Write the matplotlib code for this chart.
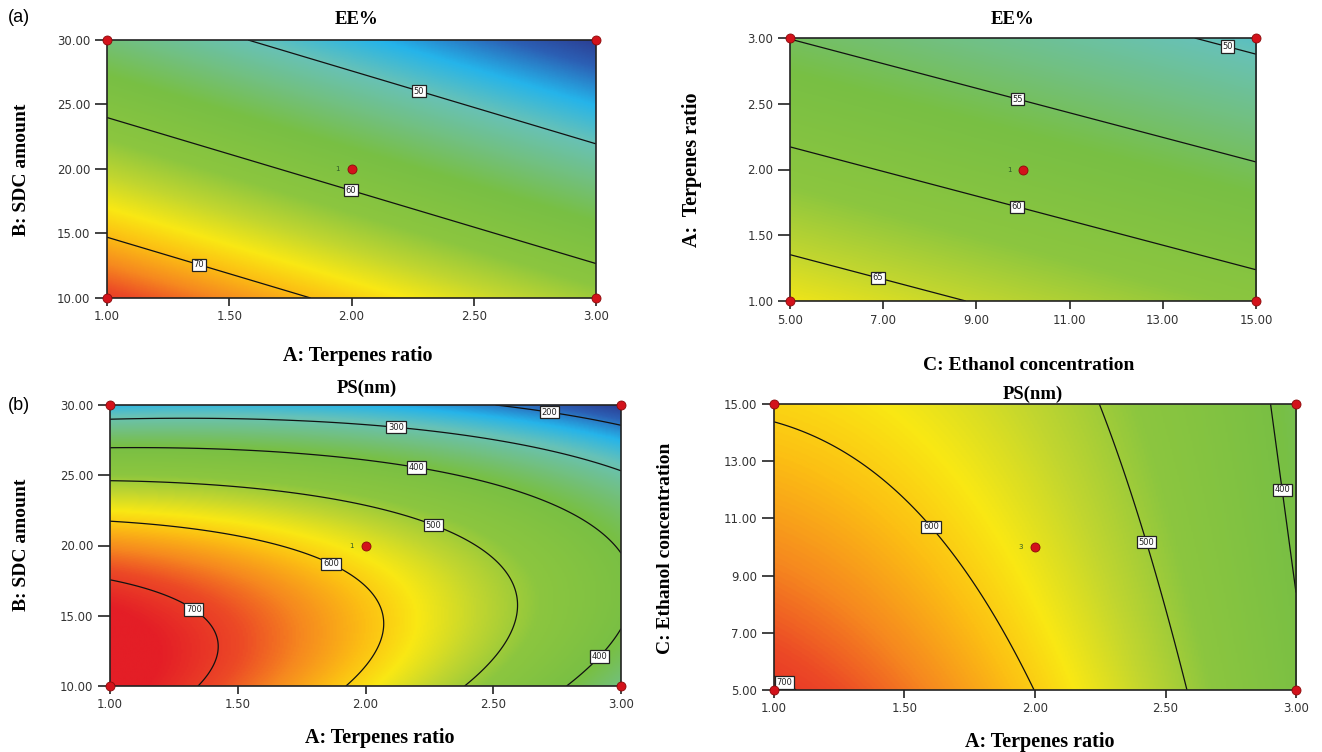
import numpy as np
import matplotlib
matplotlib.use("Agg")
import matplotlib.pyplot as plt
from matplotlib.colors import LinearSegmentedColormap, Normalize

# ---- factor ranges (actual units) ----
A_range = [1.0, 3.0]     # A: Terpenes ratio
B_range = [10.0, 30.0]   # B: SDC amount
C_range = [5.0, 15.0]    # C: Ethanol concentration
A_center, B_center, C_center = 2.0, 20.0, 10.0

# ---- fitted response models in coded units ----
# EE% = e0 + eA*a + eB*b + eC*c
ee_coef = [58.2, -6.1, -10.78, -2.85]
# PS = p0 + pA a + pB b + pC c + pAA a^2 + pBB b^2 + pCC c^2 + pAB ab + pAC ac
ps_coef = [562.26, -126.38, -174.32, -35.48, -40.75, -151.85, 1.74, 76.23, 20.75]

# contour levels shown
ee_levels_1 = [50, 60, 70]
ee_levels_2 = [50, 55, 60, 65]
ps_levels_3 = [200, 300, 400, 500, 600, 700]
ps_levels_4 = [400, 500, 600, 700]

# colour ranges of each response
ee_span = [41.0, 77.0]
ps_span = [140.0, 730.0]

# tick values
A_ticks = [1.0, 1.5, 2.0, 2.5, 3.0]
B_ticks = [10.0, 15.0, 20.0, 25.0, 30.0]
C_ticks_a = [5.0, 7.0, 9.0, 11.0, 13.0, 15.0]
A_ticks_y = [1.0, 1.5, 2.0, 2.5, 3.0]

# design point counts at centre
center_runs = ["1", "1", "1", "3"]


def coded(A, B, C):
    return (A - A_center) / 1.0, (B - B_center) / 10.0, (C - C_center) / 5.0


def ee_model(A, B, C):
    a, b, c = coded(A, B, C)
    e = ee_coef
    return e[0] + e[1] * a + e[2] * b + e[3] * c


def ps_model(A, B, C):
    a, b, c = coded(A, B, C)
    p = ps_coef
    return (p[0] + p[1] * a + p[2] * b + p[3] * c + p[4] * a * a + p[5] * b * b
            + p[6] * c * c + p[7] * a * b + p[8] * a * c)


cmap = LinearSegmentedColormap.from_list("dx", [
    (0.00, "#2b3a8f"),
    (0.07, "#2c5fb4"),
    (0.16, "#25b4ea"),
    (0.25, "#68c2b6"),
    (0.34, "#72c07f"),
    (0.43, "#78bf44"),
    (0.58, "#8cc63f"),
    (0.665, "#c2d62f"),
    (0.74, "#f9e814"),
    (0.80, "#fcc013"),
    (0.87, "#f6891f"),
    (0.93, "#ec4a26"),
    (1.00, "#e41e26"),
])

W, H = 1322, 752
fig = plt.figure(figsize=(W / 100, H / 100), dpi=100)


def axrect(x0, x1, ytop, ybot):
    return [x0 / W, 1 - ybot / H, (x1 - x0) / W, (ybot - ytop) / H]


serif = "Liberation Serif"
tick_font = dict(family="DejaVu Sans", size=8.5)


def panel(rect, xr, yr, func, span, levels, lab_pos, xticks, yticks,
          title, xlabel, ylabel, title_xy, xlabel_xy, ylabel_xy, runs, fmt,
          title_size=13.5, xl_size=14.5, yl_size=14):
    ax = fig.add_axes(axrect(*rect))
    xs = np.linspace(xr[0], xr[1], 300)
    ys = np.linspace(yr[0], yr[1], 300)
    XX, YY = np.meshgrid(xs, ys)
    ZZ = func(XX, YY)
    ax.imshow(ZZ, extent=[xr[0], xr[1], yr[0], yr[1]], origin="lower",
              aspect="auto", cmap=cmap, norm=Normalize(*span),
              interpolation="bilinear")
    cs = ax.contour(XX, YY, ZZ, levels=levels, colors="#111111", linewidths=0.9)
    texts = ax.clabel(cs, fmt=fmt, manual=lab_pos, inline=False, fontsize=6,
                      colors="#222222")
    for t in texts:
        t.set_rotation(0)
        t.set_bbox(dict(boxstyle="square,pad=0.2", facecolor="white",
                        edgecolor="#222222", linewidth=0.9))
        t.set_zorder(5)
    ax.set_xlim(xr)
    ax.set_ylim(yr)
    ax.set_xticks(xticks)
    ax.set_yticks(yticks)
    ax.set_xticklabels([f"{v:.2f}" for v in xticks], **tick_font, color="#333333")
    ax.set_yticklabels([f"{v:.2f}" for v in yticks], **tick_font, color="#333333")
    ax.tick_params(axis="y", direction="out", length=9, width=1.2, color="#222222", pad=3)
    ax.tick_params(axis="x", direction="out", length=6, width=1.2, color="#222222", pad=3)
    for s in ax.spines.values():
        s.set_linewidth(1.2)
        s.set_color("#222222")
    # design points (corners and centre)
    cx, cy = [xr[0], xr[1], xr[0], xr[1]], [yr[0], yr[0], yr[1], yr[1]]
    ax.plot(cx, cy, ls="none", marker="o", ms=6.5, mfc="#d3121b", mec="#8a0a0a",
            mew=0.6, clip_on=False, zorder=10)
    mx, my = (xr[0] + xr[1]) / 2, (yr[0] + yr[1]) / 2
    ax.plot([mx], [my], ls="none", marker="o", ms=6.5, mfc="#d3121b", mec="#8a0a0a",
            mew=0.6, zorder=10)
    ax.annotate(runs, (mx, my), xytext=(-10, 0), textcoords="offset points",
                fontsize=5, color="#2d5a27", ha="center", va="center", zorder=10)
    fig.text(title_xy[0] / W, 1 - title_xy[1] / H, title, family=serif,
             weight="bold", size=title_size, ha="center", va="center")
    fig.text(xlabel_xy[0] / W, 1 - xlabel_xy[1] / H, xlabel, family=serif,
             weight="bold", size=xl_size, ha="center", va="center")
    fig.text(ylabel_xy[0] / W, 1 - ylabel_xy[1] / H, ylabel, family=serif,
             weight="bold", size=yl_size, ha="center", va="center", rotation=90)
    return ax


# (a) EE%: A vs B (C at centre)
panel((107, 596, 40, 298), A_range, B_range,
      lambda A, B: ee_model(A, B, C_center), ee_span, ee_levels_1,
      [(1.38, 12.8), (2.0, 18.6), (2.28, 26.3)], A_ticks, B_ticks,
      "EE%", "A: Terpenes ratio", "B: SDC amount",
      (357, 20), (358, 356), (22, 170), center_runs[0], "%d")

# (a) EE%: C vs A (B at centre)
panel((790, 1256, 38, 301), C_range, A_range,
      lambda C, A: ee_model(A, B_center, C), ee_span, ee_levels_2,
      [(6.9, 1.2), (9.9, 1.75), (9.9, 2.56), (14.4, 2.95)], C_ticks_a, A_ticks_y,
      "EE%", "C: Ethanol concentration", "A:  Terpenes ratio",
      (1013, 20), (1029, 365), (692, 170), center_runs[1], "%d",
      xl_size=14, yl_size=14.5)

# (b) PS: A vs B (C at centre)
panel((110, 621, 405, 686), A_range, B_range,
      lambda A, B: ps_model(A, B, C_center), ps_span, ps_levels_3,
      [(1.33, 15.5), (1.87, 18.9), (2.27, 21.6), (2.2, 25.7), (2.12, 28.6),
       (2.72, 29.6), (2.9, 12.4)], A_ticks, B_ticks,
      "PS(nm)", "A: Terpenes ratio", "B: SDC amount",
      (367, 388), (380, 738), (22, 545), center_runs[2], "%d")

# (b) PS: A vs C (B at centre)
panel((774, 1296, 404, 690), A_range, C_range,
      lambda A, C: ps_model(A, B_center, C), ps_span, ps_levels_4,
      [(1.05, 5.4), (1.6, 10.7), (2.42, 10.15), (2.95, 12.0)], A_ticks, C_ticks_a,
      "PS(nm)", "A: Terpenes ratio", "C: Ethanol concentration",
      (1033, 394), (1040, 742), (665, 548), center_runs[3], "%d")

fig.text(8 / W, 1 - 18 / H, "(a)", family="Liberation Sans", size=13, ha="left", va="center")
fig.text(8 / W, 1 - 405 / H, "(b)", family="Liberation Sans", size=13, ha="left", va="center")

fig.savefig("out.png", dpi=100)
